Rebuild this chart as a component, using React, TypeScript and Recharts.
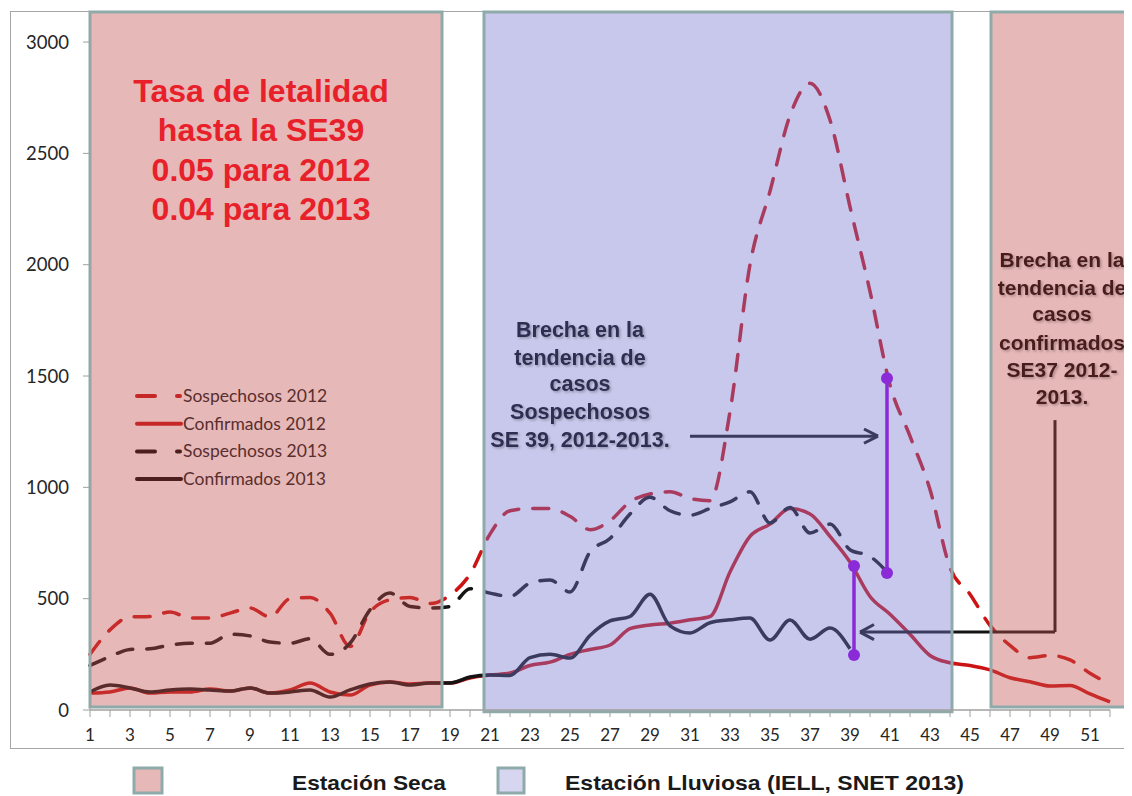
import {
  LineChart,
  Line,
  XAxis,
  YAxis,
  ReferenceArea,
  ReferenceLine,
  ReferenceDot,
} from "recharts";

// semanas epidemiológicas
const weeks = [
  1, 2, 3, 4, 5, 6, 7, 8, 9, 10, 11, 12, 13, 14, 15, 16, 17, 18, 19, 20, 21, 22, 23, 24, 25, 26,
  27, 28, 29, 30, 31, 32, 33, 34, 35, 36, 37, 38, 39, 40, 41, 42, 43, 44, 45, 46, 47, 48, 49, 50,
  51, 52,
];

const sospechosos2012 = [
  250, 360, 418, 420, 440, 413, 413, 435, 458, 418, 500, 505, 435, 285, 440, 495, 505, 478, 516,
  610, 790, 895, 905, 905, 870, 810, 850, 935, 970, 980, 950, 940, 1340, 2000, 2330, 2670, 2815,
  2650, 2260, 1880, 1460, 1230, 990, 640, 520, 380, 290, 235, 245, 225, 165, 115,
];

const confirmados2012 = [
  76, 81, 99, 76, 81, 81, 94, 85, 99, 76, 90, 121, 81, 67, 112, 126, 117, 121, 121, 144, 157, 166,
  200, 215, 250, 272, 292, 365, 382, 390, 405, 420, 620, 780, 835, 905, 880, 780, 665, 510, 430,
  340, 245, 212, 200, 180, 145, 127, 108, 110, 72, 36,
];

const sospechosos2013 = [
  200, 240, 272, 275, 292, 300, 300, 340, 333, 305, 300, 320, 250, 300, 450, 525, 465, 458, 465,
  545, 525, 510, 570, 584, 530, 710, 770, 880, 955, 895, 875, 905, 935, 980, 840, 910, 795, 835,
  720, 690, 605,
];

const confirmados2013 = [
  81, 112, 99, 81, 90, 94, 90, 85, 99, 76, 81, 90, 58, 90, 117, 126, 112, 121, 121, 148, 157, 155,
  235, 250, 233, 335, 400, 420, 520, 378, 346, 392, 405, 413, 314, 404, 318, 368, 275,
];

const yTicks = [0, 500, 1000, 1500, 2000, 2500, 3000];

// estaciones (semana inicio / fin)
const seasons = [
  { name: "seca", from: 1, to: 18.6 },
  { name: "lluviosa", from: 20.7, to: 44.1 },
  { name: "seca", from: 46.05, to: 53 },
];

// brechas marcadas
const gapSospechosos = { week: 40.85, top: 1490, bottom: 615 };
const gapConfirmados = { week: 39.2, top: 647, bottom: 247 };

const data = weeks.map((week, i) => ({
  week,
  s12: sospechosos2012[i] ?? null,
  c12: confirmados2012[i] ?? null,
  s13: sospechosos2013[i] ?? null,
  c13: confirmados2013[i] ?? null,
}));

const RED = "#cc1414";
const BLACK = "#141414";
const PURPLE = "#8b2bd8";
const BORDER = "#8faaaa";

const lineLegend = [
  { label: "Sospechosos 2012", color: "#c62828", dashed: true },
  { label: "Confirmados 2012", color: "#c62828", dashed: false },
  { label: "Sospechosos 2013", color: "#4c1e1e", dashed: true },
  { label: "Confirmados 2013", color: "#4c1e1e", dashed: false },
];

export default function App() {
  const bold = "'Liberation Sans', Arial, sans-serif";
  return (
    <div style={{ position: "relative", width: 1124, height: 788, fontFamily: "Lato, sans-serif" }}>
      <div
        style={{
          position: "absolute",
          left: 2,
          top: 3,
          width: 1130,
          height: 736,
          borderLeft: "1.5px solid #a6a6a6",
          borderTop: "1.5px solid #a6a6a6",
          borderBottom: "1.5px solid #a6a6a6",
        }}
      />
      <div style={{ position: "absolute", left: 0, top: 0 }}>
        <LineChart
          width={1124}
          height={748}
          data={data}
          margin={{ top: 4, right: 22, bottom: 6, left: 22 }}
        >
          <XAxis
            dataKey="week"
            type="number"
            domain={[1, 52]}
            ticks={weeks}
            interval={0}
            tickFormatter={(v) => (v % 2 === 1 ? String(v) : "")}
            tickSize={7}
            tickMargin={12}
            height={40}
            axisLine={{ stroke: "#a0a0a0", strokeWidth: 1.5 }}
            tickLine={{ stroke: "#a0a0a0" }}
            tick={{ fill: "#262626", fontSize: 17 }}
          />
          <YAxis
            type="number"
            domain={[0, 3135]}
            ticks={yTicks}
            allowDataOverflow
            width={60}
            tickSize={7}
            tickMargin={14}
            axisLine={{ stroke: "#a0a0a0" }}
            tickLine={{ stroke: "#a0a0a0" }}
            tick={{ fill: "#262626", fontSize: 18.5 }}
          />
          <Line
            dataKey="s12"
            type="monotone"
            stroke={RED}
            strokeWidth={3.5}
            strokeDasharray="16 14"
            strokeLinecap="round"
            dot={false}
            isAnimationActive={false}
          />
          <Line
            dataKey="c12"
            type="monotone"
            stroke={RED}
            strokeWidth={3.5}
            dot={false}
            isAnimationActive={false}
          />
          <Line
            dataKey="s13"
            type="monotone"
            stroke={BLACK}
            strokeWidth={3.5}
            strokeDasharray="16 14"
            strokeLinecap="round"
            dot={false}
            isAnimationActive={false}
          />
          <Line
            dataKey="c13"
            type="monotone"
            stroke={BLACK}
            strokeWidth={3.5}
            dot={false}
            isAnimationActive={false}
          />

          {/* flechas */}
          <ReferenceLine segment={[{ x: 31, y: 1230 }, { x: 40.4, y: 1230 }]} stroke={BLACK} strokeWidth={3} zIndex={410} />
          <ReferenceLine segment={[{ x: 39.7, y: 1262 }, { x: 40.4, y: 1230 }]} stroke={BLACK} strokeWidth={3} zIndex={410} />
          <ReferenceLine segment={[{ x: 39.7, y: 1198 }, { x: 40.4, y: 1230 }]} stroke={BLACK} strokeWidth={3} zIndex={410} />
          <ReferenceLine segment={[{ x: 49.25, y: 1302 }, { x: 49.25, y: 350 }]} stroke={BLACK} strokeWidth={3} zIndex={410} />
          <ReferenceLine segment={[{ x: 49.25, y: 350 }, { x: 39.5, y: 350 }]} stroke={BLACK} strokeWidth={3} zIndex={410} />
          <ReferenceLine segment={[{ x: 40.2, y: 384 }, { x: 39.5, y: 350 }]} stroke={BLACK} strokeWidth={3} zIndex={410} />
          <ReferenceLine segment={[{ x: 40.2, y: 316 }, { x: 39.5, y: 350 }]} stroke={BLACK} strokeWidth={3} zIndex={410} />

          {seasons.map((s, i) => (
            <ReferenceArea
              key={i}
              x1={s.from}
              x2={s.to}
              y1={s.name === "seca" ? 14 : -8}
              y2={3135}
              fill={s.name === "seca" ? "#c04d4b" : "#7575cf"}
              fillOpacity={0.4}
              stroke={BORDER}
              strokeWidth={3}
              ifOverflow="visible"
              zIndex={450}
            />
          ))}

          <ReferenceLine
            segment={[
              { x: gapSospechosos.week, y: gapSospechosos.top },
              { x: gapSospechosos.week, y: gapSospechosos.bottom },
            ]}
            stroke={PURPLE}
            strokeWidth={3.5}
            zIndex={600}
          />
          <ReferenceLine
            segment={[
              { x: gapConfirmados.week, y: gapConfirmados.top },
              { x: gapConfirmados.week, y: gapConfirmados.bottom },
            ]}
            stroke={PURPLE}
            strokeWidth={3.5}
            zIndex={600}
          />
          <ReferenceDot x={gapSospechosos.week} y={gapSospechosos.top} r={6} fill={PURPLE} stroke="none" zIndex={610} />
          <ReferenceDot x={gapSospechosos.week} y={gapSospechosos.bottom} r={6} fill={PURPLE} stroke="none" zIndex={610} />
          <ReferenceDot x={gapConfirmados.week} y={gapConfirmados.top} r={6} fill={PURPLE} stroke="none" zIndex={610} />
          <ReferenceDot x={gapConfirmados.week} y={gapConfirmados.bottom} r={6} fill={PURPLE} stroke="none" zIndex={610} />
        </LineChart>
      </div>

      <svg
        width={1124}
        height={788}
        style={{ position: "absolute", left: 0, top: 0, pointerEvents: "none" }}
      >
        <defs>
          <filter id="sh" x="-10%" y="-30%" width="120%" height="160%">
            <feDropShadow dx="1.5" dy="1.5" stdDeviation="1" floodColor="#000" floodOpacity="0.28" />
          </filter>
        </defs>
        <g transform="translate(-8,-8)">
          <g fontFamily={bold} fontWeight="bold" fontSize={32} fill="#e8202a" textAnchor="middle">
            <text x={261} y={102}>Tasa de letalidad</text>
            <text x={261} y={141}>hasta la SE39</text>
            <text x={261} y={181}>0.05 para 2012</text>
            <text x={261} y={220}>0.04 para 2013</text>
          </g>

          {lineLegend.map((l, i) => {
            const y = 396 + i * 27.7;
            return (
              <g key={l.label}>
                {l.dashed ? (
                  <>
                    <line x1={137} x2={155} y1={y} y2={y} stroke={l.color} strokeWidth={4} strokeLinecap="round" />
                    <line x1={177} x2={180} y1={y} y2={y} stroke={l.color} strokeWidth={4} strokeLinecap="round" />
                  </>
                ) : (
                  <line x1={137} x2={181} y1={y} y2={y} stroke={l.color} strokeWidth={4} strokeLinecap="round" />
                )}
                <text x={183} y={y + 6} fontSize={17.5} fill="#5a2e2e" fontFamily="Lato, sans-serif">
                  {l.label}
                </text>
              </g>
            );
          })}

          <g fontFamily={bold} fontWeight="bold" fontSize={21.5} fill="#2e2e52" textAnchor="middle" filter="url(#sh)">
            <text x={580} y={337}>Brecha en la</text>
            <text x={580} y={365}>tendencia de</text>
            <text x={580} y={391}>casos</text>
            <text x={580} y={419}>Sospechosos</text>
            <text x={580} y={447}>SE 39, 2012-2013.</text>
          </g>

          <g fontFamily={bold} fontWeight="bold" fontSize={21} fill="#4a1c1c" textAnchor="middle" filter="url(#sh)">
            <text x={1062} y={267}>Brecha en la</text>
            <text x={1062} y={295}>tendencia de</text>
            <text x={1062} y={321}>casos</text>
            <text x={1062} y={350}>confirmados</text>
            <text x={1062} y={377}>SE37 2012-</text>
            <text x={1062} y={404}>2013.</text>
          </g>

          <rect x={134} y={768} width={28} height={25} fill="#e6b8b7" stroke={BORDER} strokeWidth={3} />
          <rect x={498} y={768} width={26} height={25} fill="#d6d6f0" stroke={BORDER} strokeWidth={3} />
          <g fontFamily={bold} fontWeight="bold" fontSize={21} fill="#1a1a1a">
            <text x={292} y={790} textLength={154} lengthAdjust="spacingAndGlyphs">
              Estación Seca
            </text>
            <text x={565} y={790} textLength={399} lengthAdjust="spacingAndGlyphs">
              Estación Lluviosa (IELL, SNET 2013)
            </text>
          </g>
        </g>
      </svg>
    </div>
  );
}
